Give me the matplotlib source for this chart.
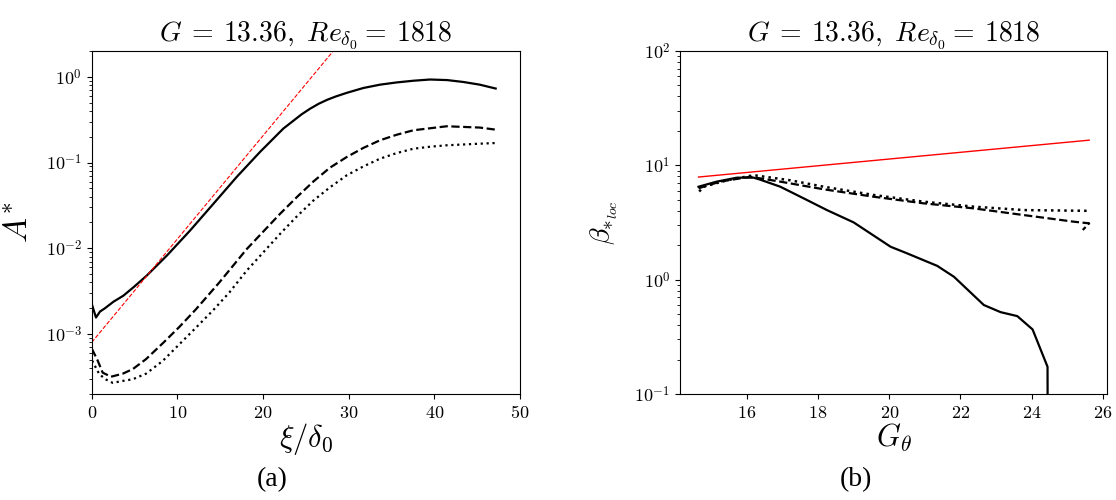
import math
import matplotlib
matplotlib.use("Agg")
import matplotlib.pyplot as plt
from matplotlib.ticker import FuncFormatter

plt.rcParams['mathtext.fontset'] = 'cm'
plt.rcParams['font.family'] = ['DejaVu Serif']

# ---------------- panel (a): A* vs xi/delta0 ----------------
xi_solid = [0.07, 0.5, 0.97, 1.55, 2.53, 3.69, 4.86, 6.42, 8.76, 11.48, 14.2, 16.93,
            19.65, 22.37, 23.5, 24.5, 25.5, 26.5, 27.5, 28.5, 29.77, 31.7, 33.66,
            35.6, 37.55, 39.5, 41.5, 43.4, 45.3, 47.16]
A_solid = [2.14e-3, 1.56e-3, 1.83e-3, 2.0e-3, 2.38e-3, 2.8e-3, 3.5e-3, 4.8e-3, 8.2e-3,
           1.61e-2, 3.3e-2, 6.8e-2, 0.133, 0.249, 0.305, 0.365, 0.425, 0.485, 0.54,
           0.59, 0.65, 0.74, 0.81, 0.86, 0.90, 0.93, 0.916, 0.87, 0.81, 0.73]

xi_dash = [0.03, 0.7, 1.28, 2.25, 3.62, 4.79, 6.34, 8.29, 10.23, 12.18, 14.9,
           18.1, 21.98, 24.0, 25.87, 27.8, 29.77, 31.7, 33.66, 35.6, 37.55, 41.44, 45.3, 47.16]
A_dash = [6.7e-4, 4.9e-4, 3.55e-4, 3.18e-4, 3.45e-4, 3.9e-4, 5.1e-4, 7.8e-4, 1.21e-3,
          1.95e-3, 4.0e-3, 9.8e-3, 0.0252, 0.040, 0.060, 0.087, 0.116, 0.148, 0.182, 0.211,
          0.238, 0.265, 0.256, 0.242]

xi_dot = [0.05, 0.89, 1.67, 2.45, 3.62, 4.79, 6.34, 8.29, 10.23, 12.18, 14.12, 16.06,
          18.1, 21.98, 23.9, 25.87, 27.8, 29.77, 31.7, 33.66, 35.6, 37.55, 39.5, 41.44,
          45.3, 47.16]
A_dot = [4.9e-4, 3.4e-4, 2.95e-4, 2.7e-4, 2.84e-4, 2.97e-4, 3.45e-4, 4.86e-4, 7.6e-4,
         1.19e-3, 1.87e-3, 3.05e-3, 5.5e-3, 0.0147, 0.0233, 0.036, 0.0513, 0.071, 0.090,
         0.111, 0.129, 0.145, 0.153, 0.159, 0.166, 0.169]

xi_fit = [0.0, 28.2]
A_fit = [8.0e-4, 2.0]

# ---------------- panel (b): beta vs G_theta ----------------
G_solid = [14.64, 15.15, 15.72, 16.19, 16.37, 16.94, 17.69, 18.25, 19.0, 20.04, 20.5,
           21.35, 21.82, 22.66, 23.13, 23.6, 24.03, 24.45, 24.47]
b_solid = [6.5, 7.2, 7.8, 7.8, 7.5, 6.5, 4.97, 4.06, 3.17, 1.94, 1.70, 1.32, 1.06,
           0.60, 0.52, 0.48, 0.367, 0.173, 1e-3]

G_dash = [14.64, 15.25, 16.09, 16.94, 18.16, 19.57, 20.97, 22.38, 23.79, 25.2, 25.62, 25.44]
b_dash = [6.3, 7.2, 7.95, 7.2, 6.17, 5.31, 4.65, 4.2, 3.67, 3.21, 3.11, 2.72]

G_dot = [14.66, 14.78, 15.44, 16.19, 17.22, 18.16, 19.57, 20.97, 22.38, 23.79, 25.62]
b_dot = [5.9, 6.5, 7.4, 8.2, 7.4, 6.5, 5.5, 4.81, 4.35, 4.06, 4.0]

G_fit = [14.64, 25.62]
b_fit = [7.9, 16.6]

title_txt = r'$G\:=\:13.36,\ Re_{\delta_0}{=}\:1818$'

fig = plt.figure(figsize=(11.16, 5.0), dpi=100)
W, H = 1116.0, 500.0
axA = fig.add_axes([91.7 / W, 1 - 394 / H, (520 - 91.7) / W, (394 - 51) / H])
axB = fig.add_axes([680 / W, 1 - 394 / H, (1107.3 - 680) / W, (394 - 51) / H])

linfmt = FuncFormatter(lambda v, p: r'$%g$' % v)
logfmt = FuncFormatter(lambda v, p: r'$10^{%d}$' % round(math.log10(v)) if v > 0 else '')

# panel (a)
axA.plot(xi_solid, A_solid, color='black', lw=1.6, ls='-')
axA.plot(xi_dash, A_dash, color='black', lw=1.6, ls='--')
axA.plot(xi_dot, A_dot, color='black', lw=1.6, ls=':')
axA.plot(xi_fit, A_fit, color='red', lw=0.8, ls='--')
axA.set_yscale('log')
axA.set_xlim(0, 50)
axA.set_ylim(2e-4, 2.0)
axA.set_xlabel(r'$\xi/\delta_0$', fontsize=22)
axA.set_ylabel(r'$A^{*}$', fontsize=24)

# panel (b)
axB.plot(G_solid, b_solid, color='black', lw=1.6, ls='-')
axB.plot(G_dash, b_dash, color='black', lw=1.6, ls='--')
axB.plot(G_dot, b_dot, color='black', lw=1.8, ls=':')
axB.plot(G_fit, b_fit, color='red', lw=1.0, ls='-')
axB.set_yscale('log')
axB.set_xlim(14.12, 26.13)
axB.set_ylim(0.1, 100)
axB.set_xlabel(r'$G_\theta$', fontsize=22)
axB.set_ylabel(r'$\beta_{*_{loc}}$', fontsize=20)

for ax in (axA, axB):
    ax.set_title(title_txt, fontsize=20, pad=6)
    ax.xaxis.set_major_formatter(linfmt)
    ax.yaxis.set_major_formatter(logfmt)
    ax.tick_params(labelsize=13)

axA.yaxis.set_label_coords(-0.135, 0.5)
axB.yaxis.set_label_coords(-0.14, 0.5)
axA.xaxis.set_label_coords(0.5, -0.08)
axB.xaxis.set_label_coords(0.5, -0.08)

fig.text(272 / W, 1 - 480 / H, '(a)', family='Liberation Serif', fontsize=20,
         ha='center', va='center')
fig.text(856 / W, 1 - 480 / H, '(b)', family='Liberation Serif', fontsize=20,
         ha='center', va='center')

fig.savefig('out.png', dpi=100)
